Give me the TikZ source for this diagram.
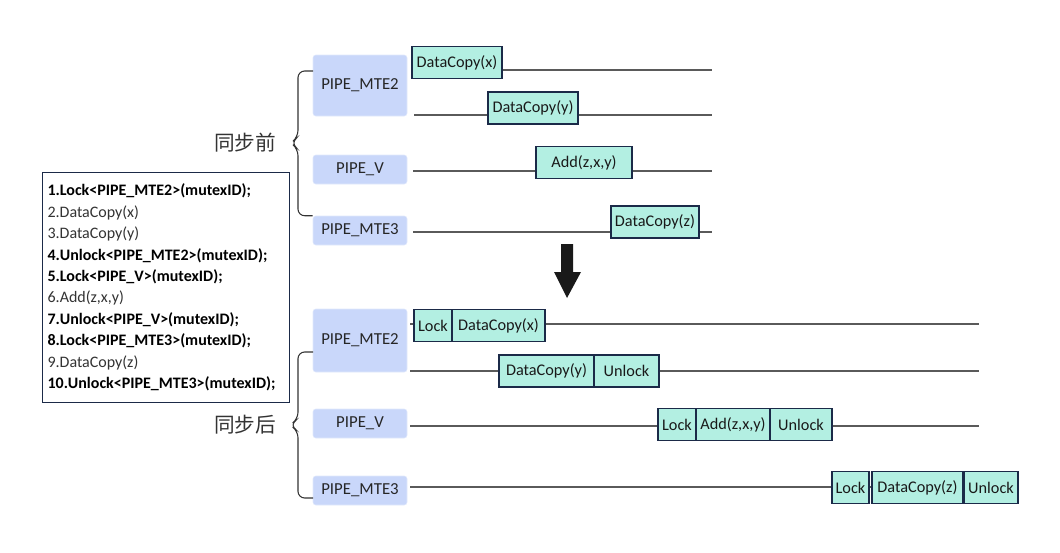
\documentclass[tikz,border=0pt]{standalone}
\usepackage{fontspec}
\setmainfont{Carlito}
\newfontfamily\cjk{Noto Sans CJK SC}
\usepackage{tikz}
\usetikzlibrary{positioning}
\definecolor{pipeblue}{HTML}{C9D7FA}
\definecolor{opgreen}{HTML}{B3EFE2}
\definecolor{opnavy}{HTML}{1B2A48}
\definecolor{linegray}{HTML}{5A5A5A}
\definecolor{textgray}{HTML}{333333}

\begin{document}
\begin{tikzpicture}[x=0.75pt,y=-0.75pt,
 pipe/.style={rectangle,rounded corners=2pt,fill=pipeblue,draw=pipeblue!55!white,minimum width=70.5pt,minimum height=#1*0.75pt,inner sep=0pt,font=\fontsize{12.6}{14}\selectfont,text=black!85},
 op/.style={rectangle,fill=opgreen,draw=opnavy,line width=0.8pt,minimum width=#1*0.75pt,minimum height=24pt,inner sep=0pt,font=\fontsize{12.2}{14}\selectfont,text=black!90},
 track/.style={linegray,line width=0.8pt},
 bracket/.style={black!80,line width=0.8pt,rounded corners=5pt},
 stage/.style={font=\cjk\fontsize{15.5}{18}\selectfont,text=textgray}]
\path[use as bounding box] (0,0) rectangle (1060,553);
% pipes and timelines before sync
\node[pipe=61] (mteA) at (360,85.5) {PIPE\_MTE2};
\node[pipe=29] (vA) at (360,169.5) {PIPE\_V};
\node[pipe=29] (mte3A) at (360,230.5) {PIPE\_MTE3};
\foreach \n/\x/\y in {a1/412/70,a2/414/115,a3/413/171,a4/413/232}{
  \coordinate (\n s) at (\x,\y);
  \coordinate (\n e) at (712,\y);
  \draw[track] (\n s) -- (\n e);
}
\node[op=90] (dcx) at (457,62.5) {DataCopy(x)};
\node[op=90] (dcy) at (533,108) {DataCopy(y)};
\node[op=96] (add) at (584,162.5) {Add(z,x,y)};
\node[op=88] (dcz) at (655,222) {DataCopy(z)};
\coordinate (braA) at (291,143);
\draw[bracket] (313,71) -| (298,137) -- (braA) -- (298,149) |- (mte3A.north west);
\node[stage] (before) at (245,143) {同步前};
% pipes and timelines after sync
\node[pipe=63] (mteB) at (360,340.5) {PIPE\_MTE2};
\node[pipe=29] (vB) at (360,423.5) {PIPE\_V};
\node[pipe=29] (mte3B) at (360,490.5) {PIPE\_MTE3};
\foreach \n/\y in {b1/324,b2/371,b3/426,b4/487}{
  \coordinate (\n s) at (410,\y);
  \coordinate (\n e) at (979,\y);
  \draw[track] (\n s) -- (\n e);
}
\foreach \n/\x/\y/\w/\t in {
  lock1/433/325.5/38/Lock, copyx/498.5/325.5/93/DataCopy(x),
  copyy/546.5/371/95/DataCopy(y), unlock1/626.5/371/65/Unlock,
  lock2/677/424.5/38/Lock, addB/733/424.5/74/{Add(z,x,y)}, unlock2/801/424.5/62/Unlock,
  lock3/850.5/487.5/37/Lock, copyz/917.5/487.5/91/DataCopy(z), unlock3/991/487.5/54/Unlock}
  \node[op=\w] (\n) at (\x,\y) {\t};
\coordinate (braB) at (290,425);
\draw[bracket] (313,352) -| (298,419) -- (braB) -- (298,431) |- (313,498);
\node[stage] (after) at (245,425) {同步后};
% big arrow
\fill[black!90] (561,244) -- (573,244) -- (573,272) -- (581,272) -- (567,298) -- (554,272) -- (561,272) -- cycle;
% code listing
\node[draw=opnavy,line width=0.8pt,fill=white,align=left,text width=178pt,minimum height=172.5pt,
  inner xsep=3.75pt,anchor=north west,font=\fontsize{12}{16.1}\selectfont] (code) at (42,172) {%
\textbf{1.Lock<PIPE\_MTE2>(mutexID);}\\
{\color{textgray}2.DataCopy(x)}\\
{\color{textgray}3.DataCopy(y)}\\
\textbf{4.Unlock<PIPE\_MTE2>(mutexID);}\\
\textbf{5.Lock<PIPE\_V>(mutexID);}\\
{\color{textgray}6.Add(z,x,y)}\\
\textbf{7.Unlock<PIPE\_V>(mutexID);}\\
\textbf{8.Lock<PIPE\_MTE3>(mutexID);}\\
{\color{textgray}9.DataCopy(z)}\\
\textbf{10.Unlock<PIPE\_MTE3>(mutexID);}};
\end{tikzpicture}
\end{document}
